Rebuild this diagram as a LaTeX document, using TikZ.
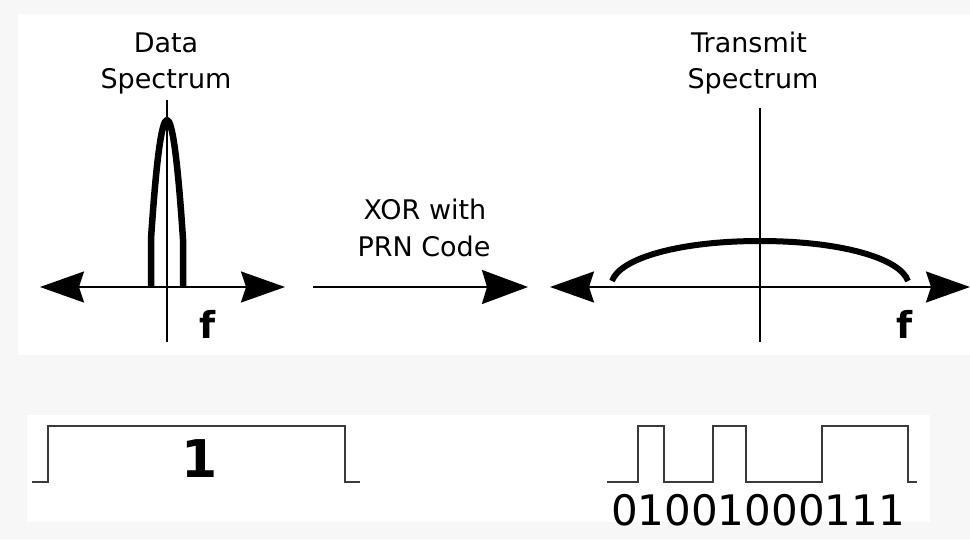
\documentclass[tikz,border=0pt]{standalone}
\usepackage{fontspec}
\setmainfont{DejaVu Sans}
\usetikzlibrary{arrows.meta}
\definecolor{paper}{HTML}{F7F7F7}
\definecolor{wave}{HTML}{3A3A3A}

\begin{document}
\begin{tikzpicture}[x=1pt,y=-1pt,
  bigtip/.style={line width=2pt,{Stealth[length=44pt,width=31pt,inset=5pt]}-{Stealth[length=44pt,width=31pt,inset=5pt]}},
  onetip/.style={line width=2pt,-{Stealth[length=46pt,width=34pt,inset=5pt]}},
  vaxis/.style={line width=1.3pt},
  spec/.style={line width=6.5pt,line join=round},
  sqwave/.style={line width=2pt,draw=wave,line join=miter},
  lbl/.style={inner sep=0pt,anchor=base,font=\fontsize{27}{32}\selectfont},
  flbl/.style={inner sep=0pt,anchor=base,font=\fontsize{37}{40}\selectfont\bfseries},
]
\useasboundingbox (0,0) rectangle (970,539);

% panels
\fill[paper] (0,0) rectangle (970,539);
\fill[white] (18,14) rectangle (970,355);
\fill[white] (27,415) rectangle (930,522);

% ---- data spectrum ----
\node[lbl] (dataA) at (166,52) {Data};
\node[lbl] (dataB) at (166,88) {Spectrum};
\coordinate (dL) at (40,287);
\coordinate (dR) at (285,287);
\coordinate (dT) at (167,100);
\coordinate (dB) at (167,342);
\draw[bigtip] (dL) -- (dR);
\draw[vaxis] (dT) -- (dB);
\coordinate (pl) at (151,287);
\coordinate (pr) at (183,287);
\coordinate (pk) at (167,120);
% narrow parabolic main lobe
\draw[spec] (pl) -- (151,239) .. controls (156.3,159) and (161.7,120) .. (pk)
  .. controls (172.3,120) and (177.7,159) .. (183,239) -- (pr);
\node[flbl] (fA) at (208,338) {f};

% ---- XOR arrow ----
\node[lbl] (xorA) at (425,219) {XOR with};
\node[lbl] (xorB) at (424,256) {PRN Code};
\coordinate (mL) at (313,287);
\coordinate (mR) at (528,287);
\draw[onetip] (mL) -- (mR);

% ---- transmit spectrum ----
\node[lbl] (txA) at (749,52) {Transmit};
\node[lbl] (txB) at (753,88) {Spectrum};
\coordinate (tL) at (550,287);
\coordinate (tR) at (970,287);
\coordinate (tT) at (760,108);
\coordinate (tB) at (760,342);
\draw[bigtip] (tL) -- (tR);
\draw[vaxis] (tT) -- (tB);
\coordinate (al) at (612,281);
\coordinate (ar) at (908,281);
\coordinate (ak) at (760,241);
% flat spread spectrum
\draw[line width=6pt] (al) .. controls (620,258) and (680,241) .. (ak)
  .. controls (840,241) and (900,258) .. (ar);
\node[flbl] (fB) at (905,338) {f};

% ---- data bit ----
\draw[sqwave] (32,482) -- (48,482) -- (48,426) -- (345,426) -- (345,482) -- (360,482);
\node[inner sep=0pt,anchor=base,font=\fontsize{52}{56}\selectfont\bfseries] (one) at (200,477) {1};

% ---- PRN chips ----
\draw[sqwave] (607,482) -- (638,482) -- (638,426) -- (664,426) -- (664,482)
  -- (713,482) -- (713,426) -- (746,426) -- (746,482)
  -- (822,482) -- (822,426) -- (908,426) -- (908,482) -- (917,482);
\node[inner sep=0pt,anchor=base,font=\fontsize{42}{46}\selectfont] (chips) at (758,525) {01001000111};
\end{tikzpicture}
\end{document}
